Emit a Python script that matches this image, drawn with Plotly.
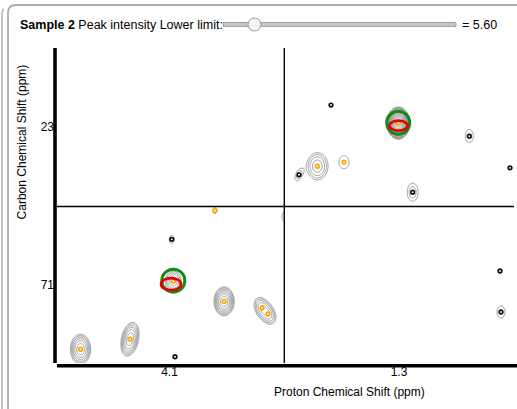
import numpy as np
import plotly.graph_objects as go

W, H = 517, 409
FONT = "Liberation Sans, Arial, Helvetica, sans-serif"

# Strip view: one window per (1H, 13C) tick, 2 x 2 panels
h_ticks = [4.1, 1.3]
c_ticks = [23, 71]
h_half = 0.3
c_half = 2.5

lower_limit = 5.60
level_step = 1.5

# Peak table: 1H shift, 13C shift, Gaussian widths, H/C correlation, height, pick type
peak_h = [4.333, 4.2035, 4.090, 3.957, 3.8577, 3.842, 4.094, 4.0856, 3.981, 3.792,
          1.3018, 1.5131, 1.5609, 1.4435, 1.4774, 1.1166, 1.0104, 1.2643, 1.0365, 1.0339]
peak_c = [73.06, 72.74, 70.89, 71.53, 71.74, 71.93, 69.55, 73.30, 68.63, 68.82,
          22.87, 24.23, 24.50, 24.10, 22.30, 23.28, 24.28, 25.05, 70.56, 71.87]
peak_sh = [0.0122, 0.0110, 0.0120, 0.0113, 0.0120, 0.0120, 0.0086, 0.0079, 0.0069, 0.0171,
           0.0086, 0.0157, 0.0090, 0.0171, 0.0080, 0.0137, 0.0080, 0.0123, 0.0080, 0.0137]
peak_sc = [0.219, 0.248, 0.182, 0.196, 0.191, 0.191, 0.167, 0.127, 0.125, 0.250,
           0.146, 0.245, 0.164, 0.270, 0.130, 0.270, 0.130, 0.246, 0.130, 0.250]
peak_rho = [0.0, 0.3, 0.0, 0.0, -0.3, -0.3, 0.0, 0.0, 0.0, 0.0,
            0.0, 0.0, 0.5, 0.0, 0.0, 0.0, 0.0, 0.0, 0.0, 0.0]
peak_amp = [60, 60, 26, 90, 24, 24, 7.5, 4, 7.5, 7.5,
            2400, 26, 11, 7.5, 4, 7.5, 4, 11, 4, 7.5]
peak_kind = ["assigned", "assigned", "assigned", "assigned", "assigned", "assigned",
             "other", "other", "assigned", "none",
             "assigned", "assigned", "other", "assigned", "other", "other", "other", "other",
             "other", "other"]

# Reference peak positions (green) and observed match regions (red)
ref_h = [4.090, 1.302]
ref_c = [70.87, 22.86]
obs_h = [4.096, 1.3013]
obs_c = [70.98, 22.95]
obs_rh = [0.0262, 0.0235]
obs_rc = [0.191, 0.158]

P_H = np.array(peak_h)
P_C = np.array(peak_c)
S_H = np.array(peak_sh)
S_C = np.array(peak_sc)
RHO = np.array(peak_rho)
AMP = np.array(peak_amp, dtype=float)
KIND = np.array(peak_kind)


def spectrum(gh, gc):
    hh, cc = np.meshgrid(gh, gc)
    f = np.zeros_like(hh)
    for h0, c0, sh, sc, r, a in zip(P_H, P_C, S_H, S_C, RHO, AMP):
        u = (hh - h0) / sh
        v = (cc - c0) / sc
        q = (u * u - 2 * r * u * v + v * v) / (1 - r * r)
        f += a * np.exp(-0.5 * q)
    return f


def px(x):
    return x / W


def py(y):
    return 1 - y / H


col_px = [(55, 284), (284, 514)]
row_px = [(48, 206.5), (206.5, 363)]

fig = go.Figure()
layout_axes = {}
shapes = []

panels = [(1, 0), (1, 1), (0, 0), (0, 1)]
for k, (row, col) in enumerate(panels, start=1):
    hc = h_ticks[col]
    cc = c_ticks[row]
    xname = "x" if k == 1 else f"x{k}"
    yname = "y" if k == 1 else f"y{k}"
    xkey = "xaxis" if k == 1 else f"xaxis{k}"
    ykey = "yaxis" if k == 1 else f"yaxis{k}"

    layout_axes[xkey] = dict(
        domain=[px(col_px[col][0]), px(col_px[col][1])],
        range=[hc + h_half, hc - h_half], anchor=yname,
        showgrid=False, zeroline=False, showline=False, ticks="",
        tickvals=[hc] if row == 1 else [], ticktext=[str(hc)],
        showticklabels=(row == 1), tickfont=dict(family=FONT, size=12, color="#000"),
        automargin=False, fixedrange=True,
    )
    layout_axes[ykey] = dict(
        domain=[py(row_px[row][1]), py(row_px[row][0])],
        range=[cc + c_half, cc - c_half], anchor=xname,
        showgrid=False, zeroline=False, showline=False, ticks="",
        tickvals=[cc] if col == 0 else [], ticktext=[str(cc)],
        showticklabels=(col == 0), tickfont=dict(family=FONT, size=12, color="#000"),
        automargin=False, fixedrange=True,
    )

    # contour map of the spectrum, geometric levels from the lower limit
    gh = np.linspace(hc - 1.1 * h_half, hc + 1.1 * h_half, 400)
    gc = np.linspace(cc - 1.1 * c_half, cc + 1.1 * c_half, 280)
    z = np.log(spectrum(gh, gc) + 1e-9).astype(np.float32)
    fig.add_trace(go.Contour(
        x=gh, y=gc, z=z, xaxis=xname, yaxis=yname,
        autocontour=False,
        contours=dict(start=np.log(lower_limit), end=np.log(lower_limit) + 30 * np.log(level_step),
                      size=np.log(level_step), coloring="none"),
        line=dict(color="#8a8a8a", width=0.85, smoothing=1),
        showscale=False, hoverinfo="skip",
    ))

    inside = ((np.abs(P_H - hc) <= h_half) & (np.abs(P_C - cc) <= c_half))
    for kind, color in (("assigned", "#ffa500"), ("other", "#111111")):
        m = inside & (KIND == kind)
        if m.any():
            fig.add_trace(go.Scatter(
                x=P_H[m], y=P_C[m], xaxis=xname, yaxis=yname, mode="markers",
                marker=dict(symbol="circle-open", size=3.6, color=color, line=dict(width=1.7)),
                hoverinfo="skip", showlegend=False,
            ))

    for rh, rc, oh, oc, wh, wc in zip(ref_h, ref_c, obs_h, obs_c, obs_rh, obs_rc):
        if abs(rh - hc) <= h_half and abs(rc - cc) <= c_half:
            fig.add_trace(go.Scatter(
                x=[rh], y=[rc], xaxis=xname, yaxis=yname, mode="markers",
                marker=dict(symbol="circle-open", size=23, color="#138a13", line=dict(width=3)),
                hoverinfo="skip", showlegend=False,
            ))
            shapes.append(dict(type="circle", xref=xname, yref=yname,
                               x0=oh - wh, x1=oh + wh, y0=oc - wc, y1=oc + wc,
                               line=dict(color="#e60000", width=2.6), layer="above"))

# panel separators and axis rules
shapes += [
    dict(type="line", xref="paper", yref="paper", x0=px(284.3), x1=px(284.3), y0=py(48), y1=py(363),
         line=dict(color="#000", width=1.4)),
    dict(type="line", xref="paper", yref="paper", x0=px(55), x1=px(514), y0=py(206.5), y1=py(206.5),
         line=dict(color="#000", width=1.4)),
    dict(type="line", xref="paper", yref="paper", x0=px(55), x1=px(55), y0=py(48), y1=py(363),
         line=dict(color="#000", width=3.6)),
    dict(type="line", xref="paper", yref="paper", x0=px(57), x1=px(517), y0=py(365.7), y1=py(365.7),
         line=dict(color="#000", width=3.6)),
]

# surrounding panel frame
shapes += [
    dict(type="path", xref="paper", yref="paper",
         path=(f"M {px(8)},{py(409)} L {px(8)},{py(13)} Q {px(8)},{py(5)} {px(16)},{py(5)} "
               f"L {px(517)},{py(5)}"),
         line=dict(color="#ababab", width=1.8)),
    dict(type="path", xref="paper", yref="paper",
         path=f"M {px(2)},{py(409)} L {px(2)},{py(14)} Q {px(2)},{py(10)} {px(4)},{py(9)}",
         line=dict(color="#bdbdbd", width=1.8)),
]

# slider for the lower intensity limit
shapes += [
    dict(type="rect", xref="paper", yref="paper", x0=px(223), x1=px(456), y0=py(26.5), y1=py(22.5),
         fillcolor="#c4c4c4", line=dict(color="#979797", width=0.8)),
    dict(type="circle", xref="paper", yref="paper", x0=px(248), x1=px(261), y0=py(31), y1=py(18),
         fillcolor="#f3f3f3", line=dict(color="#9a9a9a", width=1)),
]

annotations = [
    dict(text="<b>Sample 2</b> Peak intensity Lower limit:", xref="paper", yref="paper",
         x=px(18), y=py(25), xanchor="left", yanchor="middle", showarrow=False,
         font=dict(family=FONT, size=12.5, color="#000")),
    dict(text=f"= {lower_limit:.2f}", xref="paper", yref="paper",
         x=px(460), y=py(25), xanchor="left", yanchor="middle", showarrow=False,
         font=dict(family=FONT, size=12.5, color="#000")),
    dict(text="Proton Chemical Shift (ppm)", xref="paper", yref="paper",
         x=px(349.7), y=py(391.5), xanchor="center", yanchor="middle", showarrow=False,
         font=dict(family=FONT, size=12, color="#000")),
    dict(text="Carbon Chemical Shift (ppm)", xref="paper", yref="paper", textangle=-90,
         x=px(21.7), y=py(141.7), xanchor="center", yanchor="middle", showarrow=False,
         font=dict(family=FONT, size=12, color="#000")),
]

fig.update_layout(
    width=W, height=H, margin=dict(l=0, r=0, t=0, b=0, pad=0),
    paper_bgcolor="#ffffff", plot_bgcolor="#ffffff",
    showlegend=False, shapes=shapes, annotations=annotations,
    font=dict(family=FONT, size=12, color="#000"),
    **layout_axes,
)

fig.write_html("out.html", config={"displayModeBar": False})
